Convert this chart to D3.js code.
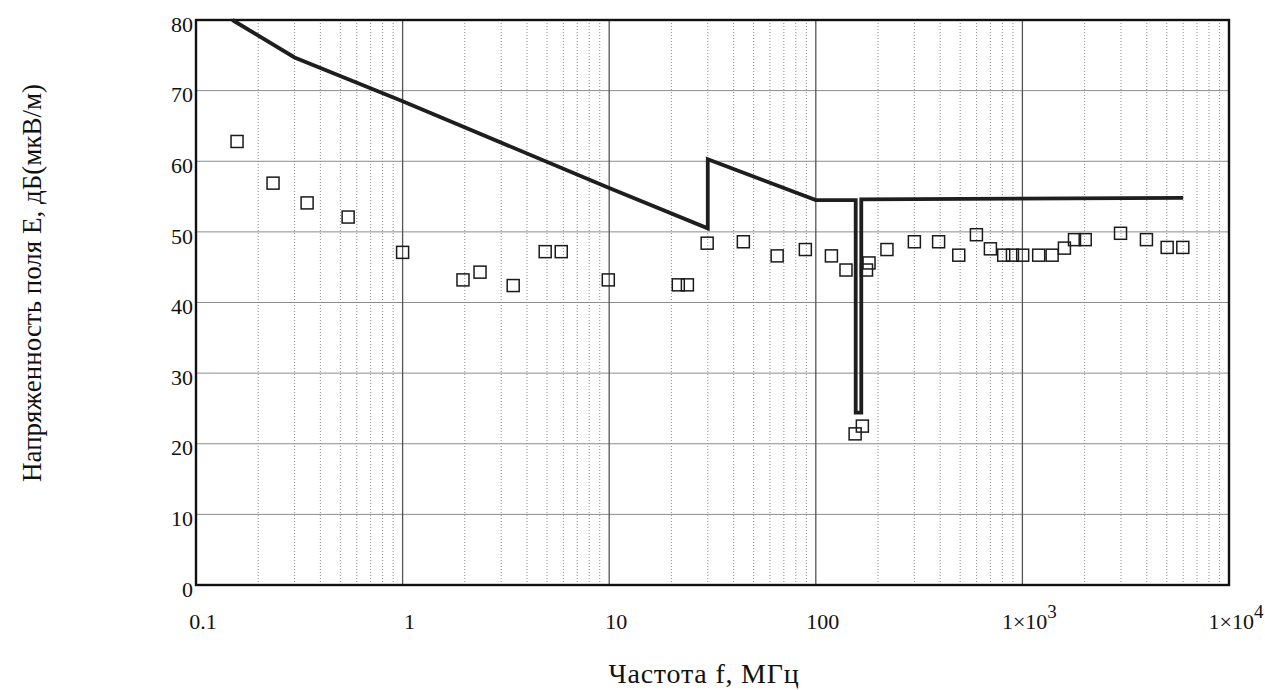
<!DOCTYPE html>
<html>
<head>
<meta charset="utf-8">
<script src="https://cdn.jsdelivr.net/npm/d3@7"></script>
<style>
  body { margin: 0; background: #fff; }
  text { font-family: "Liberation Serif", "DejaVu Serif", serif; fill: #111; }
</style>
</head>
<body>
<div id="chart"></div>
<script>
// measured points (MHz, dB(uV/m))
const freqs = [0.158, 0.236, 0.345, 0.545, 1.0, 1.96, 2.37, 3.43, 4.9, 5.86, 9.9,
    21.6, 23.9, 29.8, 44.6, 65, 89, 119, 140, 155, 168, 176, 181, 221, 300, 393,
    492, 599, 700, 812, 895, 1003, 1199, 1393, 1597, 1787, 2014, 2985, 3984, 5020, 5976]
const levels = [62.8, 56.9, 54.1, 52.1, 47.1, 43.2, 44.3, 42.4, 47.2, 47.2, 43.2,
    42.5, 42.5, 48.4, 48.6, 46.6, 47.5, 46.6, 44.6, 21.4, 22.5, 44.6, 45.6, 47.5, 48.6, 48.6,
    46.7, 49.6, 47.6, 46.7, 46.7, 46.7, 46.7, 46.7, 47.7, 48.9, 48.9, 49.8, 48.9, 47.8, 47.8]

// limit line
const limitFreqs = [0.15, 0.3, 1, 10, 30, 30, 100, 156, 156, 166, 166, 6000]
const limitLevels = [80, 74.7, 68.5, 56.2, 50.5, 60.3, 54.5, 54.5, 24.4, 24.4, 54.6, 54.8]

const xTicks = [0.1, 1, 10, 100, 1000, 10000]
const xTickLabels = ["0.1", "1", "10", "100", "1×10|3", "1×10|4"]
const yTicks = [0, 10, 20, 30, 40, 50, 60, 70, 80]

const W = 1265, H = 690
const margin = { left: 196, top: 20, right: 36, bottom: 105 }

const svg = d3.select("#chart").append("svg")
    .attr("width", W).attr("height", H)

const x = d3.scaleLog().domain([0.1, 10000]).range([margin.left, W - margin.right])
const y = d3.scaleLinear().domain([0, 80]).range([H - margin.bottom, margin.top])

// minor vertical grid (2..9 in each decade)
const minor = []
for (let d = 0.1; d < 10000; d *= 10) {
    for (let k = 2; k <= 9; k++) minor.push(d * k)
}
svg.append("g").selectAll("line").data(minor).enter().append("line")
    .attr("x1", d => x(d)).attr("x2", d => x(d))
    .attr("y1", y(80)).attr("y2", y(0))
    .attr("stroke", "#8a8a8a").attr("stroke-width", 1)
    .attr("stroke-dasharray", "1,2")

// horizontal grid
svg.append("g").selectAll("line").data(yTicks.slice(1, -1)).enter().append("line")
    .attr("x1", x(0.1)).attr("x2", x(10000))
    .attr("y1", d => y(d)).attr("y2", d => y(d))
    .attr("stroke", "#8c8c8c").attr("stroke-width", 1)

// major vertical grid
svg.append("g").selectAll("line").data(xTicks.slice(1, -1)).enter().append("line")
    .attr("x1", d => x(d)).attr("x2", d => x(d))
    .attr("y1", y(80)).attr("y2", y(0))
    .attr("stroke", "#555").attr("stroke-width", 1.3)

// frame
svg.append("rect")
    .attr("x", x(0.1)).attr("y", y(80))
    .attr("width", x(10000) - x(0.1)).attr("height", y(0) - y(80))
    .attr("fill", "none").attr("stroke", "#111").attr("stroke-width", 2.4)

// limit line
const line = d3.line().x((d, i) => x(limitFreqs[i])).y(d => y(d))
svg.append("path")
    .datum(limitLevels)
    .attr("d", line)
    .attr("fill", "none")
    .attr("stroke", "#1e1e1e")
    .attr("stroke-width", 3.8)
    .attr("stroke-linejoin", "miter")

// measured squares
const s = 12
svg.append("g").selectAll("rect").data(levels).enter().append("rect")
    .attr("x", (d, i) => x(freqs[i]) - s / 2)
    .attr("y", d => y(d) - s / 2)
    .attr("width", s).attr("height", s)
    .attr("fill", "none").attr("stroke", "#1a1a1a").attr("stroke-width", 1.5)

// y tick labels
svg.append("g").selectAll("text").data(yTicks).enter().append("text")
    .attr("x", margin.left - 3)
    .attr("y", d => y(d) + 4)
    .attr("dy", "0.35em")
    .attr("text-anchor", "end")
    .style("font-size", "22px")
    .text(d => d)

// x tick labels
const xl = svg.append("g").selectAll("text").data(xTicks).enter().append("text")
    .attr("x", d => x(d) + 7)
    .attr("y", 629)
    .attr("text-anchor", "middle")
    .style("font-size", "22px")
xl.each(function (d, i) {
    const parts = xTickLabels[i].split("|")
    const t = d3.select(this)
    t.append("tspan").text(parts[0])
    if (parts[1]) {
        t.append("tspan").attr("dy", -11).style("font-size", "19px").text(parts[1])
    }
})

// axis titles
svg.append("text")
    .attr("x", 704).attr("y", 683)
    .attr("text-anchor", "middle")
    .style("font-size", "28px")
    .style("letter-spacing", "0.8px")
    .text("Частота f, МГц")

svg.append("text")
    .attr("transform", "translate(41,283) rotate(-90)")
    .attr("text-anchor", "middle")
    .style("font-size", "27px")
    .text("Напряженность поля E, дБ(мкВ/м)")
</script>
</body>
</html>
